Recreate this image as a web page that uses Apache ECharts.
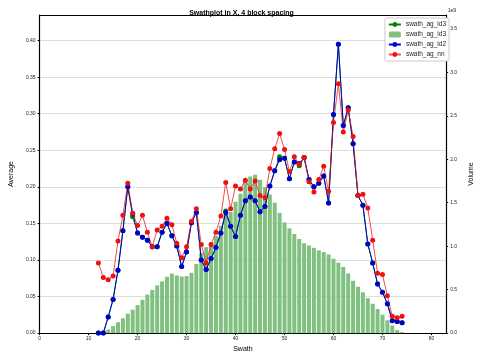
<!DOCTYPE html>
<html><head><meta charset="utf-8">
<script src="https://cdn.jsdelivr.net/npm/echarts@6/dist/echarts.min.js"></script>
<style>html,body{margin:0;padding:0;background:#fff}#c{width:483px;height:358px}</style>
</head><body><div id="c"></div>
<script>
// Swath positions for the average lines
const swath = [12,13,14,15,16,17,18,19,20,21,22,23,24,25,26,27,28,29,30,31,32,33,34,35,36,37,38,39,40,41,42,43,
  44,45,46,47,48,49,50,51,52,53,54,55,56,57,58,59,60,61,62,63,64,65,66,67,68,69,70,71,72,73,74];
// swath_ag_id2 averages (blue)
const agId2 = [0.000,0.000,0.022,0.046,0.086,0.140,0.200,0.163,0.137,0.131,0.127,0.118,0.118,0.138,0.150,0.133,
  0.119,0.091,0.111,0.151,0.165,0.100,0.087,0.102,0.117,0.137,0.165,0.146,0.132,0.161,0.181,0.186,0.181,0.166,
  0.173,0.201,0.222,0.237,0.239,0.211,0.234,0.232,0.240,0.210,0.200,0.205,0.215,0.178,0.299,0.395,0.284,0.308,
  0.259,0.188,0.175,0.122,0.096,0.067,0.056,0.040,0.017,0.016,0.014];
// swath_ag_id3 averages (green line, mostly hidden under blue)
const agId3 = [0.000,0.000,0.022,0.046,0.086,0.140,0.200,0.159,0.137,0.131,0.127,0.118,0.118,0.138,0.150,0.133,
  0.119,0.091,0.111,0.151,0.165,0.100,0.087,0.102,0.117,0.137,0.167,0.146,0.132,0.161,0.181,0.186,0.181,0.166,
  0.173,0.201,0.222,0.241,0.239,0.211,0.234,0.229,0.240,0.210,0.200,0.205,0.215,0.178,0.299,0.395,0.284,0.308,
  0.259,0.188,0.175,0.122,0.096,0.067,0.056,0.040,0.017,0.016,0.014];
// swath_ag_nn averages (red)
const agNn = [0.096,0.076,0.073,0.078,0.126,0.161,0.205,0.164,0.147,0.161,0.138,0.118,0.141,0.146,0.157,0.148,
  0.123,0.103,0.118,0.153,0.170,0.121,0.096,0.121,0.138,0.160,0.206,0.170,0.201,0.197,0.209,0.197,0.208,0.188,
  0.185,0.225,0.252,0.273,0.251,0.221,0.241,0.231,0.240,0.207,0.193,0.210,0.228,0.194,0.288,0.341,0.275,0.305,
  0.269,0.188,0.190,0.171,0.127,0.082,0.080,0.051,0.023,0.021,0.023];
// Swath positions for the volume bars
const barSwath = [14,15,16,17,18,19,20,21,22,23,24,25,26,27,28,29,30,31,32,33,34,35,36,37,38,39,40,41,42,43,
  44,45,46,47,48,49,50,51,52,53,54,55,56,57,58,59,60,61,62,63,64,65,66,67,68,69,70,71,72,73,74];
// swath_ag_id3 volume, in units of 1e9
const volume = [0.04,0.08,0.125,0.17,0.224,0.269,0.322,0.383,0.443,0.496,0.549,0.595,0.648,0.685,0.663,0.651,
  0.655,0.693,0.795,0.924,0.989,1.045,1.121,1.235,1.398,1.394,1.511,1.602,1.765,1.803,1.822,1.765,1.682,1.595,
  1.5,1.383,1.273,1.205,1.14,1.083,1.034,1.008,0.981,0.951,0.932,0.905,0.856,0.81,0.761,0.686,0.602,0.534,0.47,
  0.402,0.337,0.277,0.212,0.148,0.087,0.034,0.011];
const xTicks = {min:0, max:83, interval:10};

const FONT = 'Liberation Sans';
const chart = echarts.init(document.getElementById('c'), null, {renderer:'canvas'});
const pairs = (xs, ys) => xs.map((x, i) => [x, ys[i]]);
const lineSeries = (name, data, color, lineOpacity) => ({
  name, type:'line', data, z:3, symbol:'circle', symbolSize:5, showSymbol:true,
  itemStyle:{color}, lineStyle:{color, width:1, opacity:lineOpacity}, emphasis:{disabled:true}
});
const axisLbl = {fontSize:5, color:'#222', fontFamily:FONT};
const spine = {show:true, onZero:false, lineStyle:{color:'#000', width:1.2}};
chart.setOption({
  animation:false,
  textStyle:{fontFamily:FONT},
  title:{text:'Swathplot in X, 4 block spacing', left:'center', top:5,
    textStyle:{fontSize:7, fontWeight:'bold', color:'#000', fontFamily:FONT}},
  grid:{left:33, right:33, top:15, bottom:21, containLabel:false},
  legend:{orient:'vertical', right:34, top:18, itemWidth:12, itemHeight:6, itemGap:3,
    backgroundColor:'#fff', borderColor:'#ccc', borderWidth:1, borderRadius:2, padding:[3,3,3,3],
    textStyle:{fontSize:6.5, color:'#222', fontFamily:FONT},
    formatter: n => n.trim(),
    data:['swath_ag_id3','swath_ag_id3 ','swath_ag_id2','swath_ag_nn']},
  xAxis:[{type:'value', min:xTicks.min, max:xTicks.max, interval:xTicks.interval,
      axisLine:spine,
      axisTick:{show:true, length:2, lineStyle:{color:'#000'}},
      axisLabel:Object.assign({margin:3, showMaxLabel:false}, axisLbl),
      splitLine:{show:false},
      name:'Swath', nameLocation:'middle', nameGap:11,
      nameTextStyle:{fontSize:7, color:'#000', fontFamily:FONT}},
    {type:'value', position:'top', min:xTicks.min, max:xTicks.max,
      axisLine:spine,
      axisTick:{show:false}, axisLabel:{show:false}, splitLine:{show:false}}],
  yAxis:[{type:'value', position:'left', min:0, max:0.435, interval:0.05,
      axisLine:spine,
      axisTick:{show:true, length:2, lineStyle:{color:'#000'}},
      axisLabel:Object.assign({margin:4, showMaxLabel:false, formatter:v => v.toFixed(2)}, axisLbl),
      splitLine:{show:true, lineStyle:{type:'dotted', color:'#bbb', width:1}},
      name:'Average', nameLocation:'middle', nameGap:19, nameRotate:90,
      nameTextStyle:{fontSize:7, color:'#000', fontFamily:FONT}},
    {type:'value', position:'right', min:0, max:3.66, interval:0.5,
      axisLine:spine,
      axisTick:{show:true, length:2, lineStyle:{color:'#000'}},
      axisLabel:Object.assign({margin:4, showMaxLabel:false, formatter:v => v.toFixed(1)}, axisLbl),
      splitLine:{show:false},
      name:'Volume', nameLocation:'middle', nameGap:18, nameRotate:90,
      nameTextStyle:{fontSize:7, color:'#000', fontFamily:FONT}}],
  graphic:[{type:'text', right:27, top:8, style:{text:'1e9', fontSize:5, fill:'#222', fontFamily:FONT}}],
  series:[
    lineSeries('swath_ag_id3', pairs(swath, agId3), '#008000', 1),
    {name:'swath_ag_id3 ', type:'bar', yAxisIndex:1, z:1, barWidth:4,
      data:pairs(barSwath, volume), itemStyle:{color:'#80c080'}, emphasis:{disabled:true}},
    lineSeries('swath_ag_id2', pairs(swath, agId2), '#0000d0', 1),
    lineSeries('swath_ag_nn', pairs(swath, agNn), '#ee1111', 0.75)
  ]
});
</script></body></html>
